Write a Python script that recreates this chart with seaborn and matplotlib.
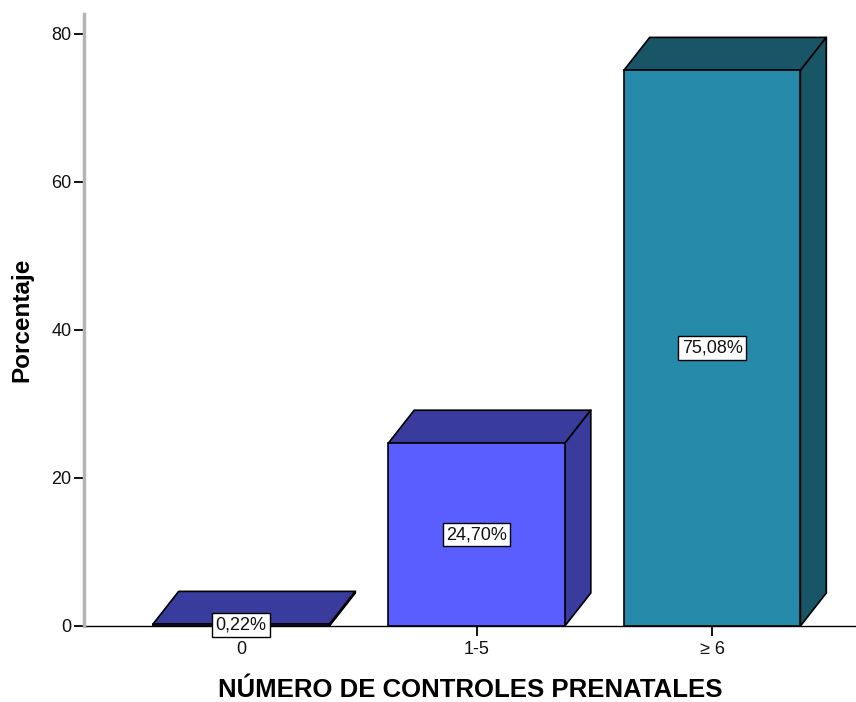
import matplotlib
matplotlib.use("Agg")
import matplotlib.pyplot as plt
from matplotlib.patches import Polygon
import seaborn as sns
import pandas as pd

categories = ["0", "1-5", "≥ 6"]
values = [0.22, 24.70, 75.08]
labels = ["0,22%", "24,70%", "75,08%"]
front_colors = ["#3b3d9d", "#5a5eff", "#268aab"]
dark_colors = ["#393c9c", "#393c9c", "#185567"]
yticks = [0, 20, 40, 60, 80]

sns.set_style("white")
plt.rcParams["font.family"] = ["Liberation Sans", "DejaVu Sans"]

df = pd.DataFrame({"cat": categories, "val": values})

fig = plt.figure(figsize=(8.56, 7.02), dpi=100)
ax = fig.add_axes([84 / 856, 76 / 702, (856 - 84) / 856, (626 - 14) / 702])

sns.barplot(data=df, x="cat", y="val", hue="cat", palette=front_colors,
            saturation=1, width=0.75, edgecolor="black", linewidth=1.2,
            legend=False, ax=ax, zorder=3)

ax.set_xlim(-0.667, 2.611)
ax.set_ylim(0, 82.7)

dx, dy = 0.11, 4.46
for patch, dc, lab, v in zip(ax.patches, dark_colors, labels, values):
    x0 = patch.get_x()
    x1 = x0 + patch.get_width()
    h = patch.get_height()
    top = Polygon([(x0, h), (x1, h), (x1 + dx, h + dy), (x0 + dx, h + dy)],
                  closed=True, facecolor=dc, edgecolor="black", linewidth=1.2,
                  zorder=2, joinstyle="round")
    side = Polygon([(x1, 0), (x1, h), (x1 + dx, h + dy), (x1 + dx, dy)],
                   closed=True, facecolor=dc, edgecolor="black", linewidth=1.2,
                   zorder=2, joinstyle="round")
    ax.add_patch(top)
    ax.add_patch(side)
    ax.text((x0 + x1) / 2, h / 2, lab, ha="center", va="center", fontsize=13,
            color="#111111", zorder=5,
            bbox=dict(boxstyle="square,pad=0.18", facecolor="white",
                      edgecolor="black", linewidth=1.0))

ax.set_yticks(yticks)
ax.set_yticklabels([str(t) for t in yticks])
ax.tick_params(axis="y", direction="out", length=7, width=1.3, color="black",
               labelsize=13, pad=2, left=True, labelcolor="#111111")
ax.tick_params(axis="x", direction="out", length=7, width=1.3, color="black",
               labelsize=13, pad=4, bottom=True, labelcolor="#111111")

for s in ["top", "right"]:
    ax.spines[s].set_visible(False)
ax.spines["left"].set_color("#b4b4b4")
ax.spines["left"].set_linewidth(2.5)
ax.spines["bottom"].set_color("black")
ax.spines["bottom"].set_linewidth(1.0)
ax.spines["bottom"].set_zorder(1)

ax.set_xlabel("NÚMERO DE CONTROLES PRENATALES", fontsize=18.5,
              fontweight="bold", labelpad=14, color="black")
ax.set_ylabel("Porcentaje", fontsize=17.5, fontweight="bold", labelpad=13,
              color="black")

fig.savefig("out.png", dpi=100)
